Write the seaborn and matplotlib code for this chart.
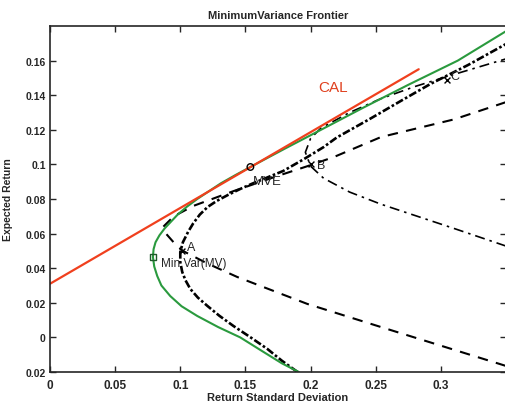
import numpy as np
import pandas as pd
import matplotlib
matplotlib.use("Agg")
import matplotlib.pyplot as plt
import seaborn as sns

# ---------------- data ----------------
green_sd = [0.191, 0.178, 0.163, 0.146, 0.129, 0.113, 0.101, 0.0923, 0.0855, 0.0823,
            0.080, 0.079, 0.0795, 0.081, 0.084, 0.088, 0.093, 0.098, 0.105, 0.113,
            0.122, 0.131, 0.142, 0.1538, 0.18, 0.208, 0.241, 0.275, 0.313, 0.35]
green_ret = [-0.02, -0.015, -0.008, 0.0, 0.006, 0.0124, 0.018, 0.0239, 0.03, 0.0355,
             0.041, 0.0465, 0.051, 0.055, 0.059, 0.063, 0.067, 0.071, 0.0755, 0.08,
             0.0845, 0.089, 0.0937, 0.0985, 0.109, 0.12, 0.133, 0.146, 0.16, 0.177]

heavy_sd = [0.19, 0.178, 0.1669, 0.154, 0.1408, 0.13, 0.1208, 0.1135, 0.1077, 0.104,
            0.1015, 0.100, 0.100, 0.102, 0.106, 0.110, 0.115, 0.121, 0.128, 0.137,
            0.146, 0.155, 0.164, 0.179, 0.195, 0.21, 0.22, 0.246, 0.27, 0.292,
            0.321, 0.35]
heavy_ret = [-0.02, -0.0135, -0.0067, 0.0, 0.0066, 0.0125, 0.0182, 0.023, 0.028, 0.033,
             0.0378, 0.0435, 0.0494, 0.055, 0.061, 0.066, 0.071, 0.0754, 0.0789, 0.0825,
             0.0858, 0.0888, 0.0916, 0.0962, 0.1031, 0.11, 0.1155, 0.1265, 0.137, 0.1465,
             0.1575, 0.1696]

ab_sd = [0.35, 0.31, 0.254, 0.218, 0.1977, 0.1746, 0.141, 0.11, 0.095, 0.087,
         0.089, 0.096, 0.102, 0.12, 0.1438, 0.1977, 0.254, 0.35]
ab_ret = [0.136, 0.126, 0.1158, 0.1043, 0.099, 0.0933, 0.0846, 0.076, 0.07, 0.064,
          0.06, 0.054, 0.05, 0.043, 0.0349, 0.0193, 0.006, -0.0165]

bc_sd = [0.35, 0.31, 0.28, 0.254, 0.23, 0.21, 0.2, 0.196, 0.2, 0.208,
         0.23, 0.254, 0.28, 0.31, 0.35]
bc_ret = [0.0528, 0.063, 0.0705, 0.077, 0.084, 0.092, 0.099, 0.107, 0.115, 0.121,
          0.13, 0.138, 0.145, 0.152, 0.161]

cal_sd = [0.0, 0.283]
cal_ret = [0.031, 0.155]

point_names = ["A", "B", "C"]
point_sd = [0.101, 0.2, 0.305]
point_ret = [0.05, 0.1, 0.149]

mv_sd, mv_ret = 0.079, 0.0465
mve_sd, mve_ret = 0.1538, 0.0985

xticks = [0, 0.05, 0.1, 0.15, 0.2, 0.25, 0.3]
xtick_labels = ["0", "0.05", "0.1", "0.15", "0.2", "0.25", "0.3"]
yticks = [-0.02, 0, 0.02, 0.04, 0.06, 0.08, 0.1, 0.12, 0.14, 0.16]
ytick_labels = ["0.02", "0", "0.02", "0.04", "0.06", "0.08", "0.1", "0.12", "0.14", "0.16"]

# ---------------- style ----------------
sns.set_style("ticks")
plt.rcParams["font.family"] = ["Liberation Sans", "DejaVu Sans"]
plt.rcParams["xtick.direction"] = "in"
plt.rcParams["ytick.direction"] = "in"

fig = plt.figure(figsize=(5.05, 4.02), dpi=100)
ax = fig.add_axes([50 / 505, 29 / 402, 456 / 505, 346 / 402])

def curve(sd, ret, **kw):
    df = pd.DataFrame({"sd": sd, "ret": ret})
    sns.lineplot(data=df, x="sd", y="ret", sort=False, estimator=None, ax=ax, **kw)

curve(bc_sd, bc_ret, color="black", lw=1.2, linestyle=(0, (6, 3, 1.5, 3)))
curve(ab_sd, ab_ret, color="black", lw=1.5, linestyle=(0, (5, 4)))
curve(heavy_sd, heavy_ret, color="black", lw=1.9, linestyle=(0, (3, 0.9, 1, 0.9)))
curve(green_sd, green_ret, color="#2a9a3e", lw=1.5)
curve(cal_sd, cal_ret, color="#f0401e", lw=1.6)

pts = pd.DataFrame({"sd": point_sd, "ret": point_ret})
sns.scatterplot(data=pts, x="sd", y="ret", marker="x", color="black", s=18,
                linewidth=1.0, ax=ax, zorder=5)
sns.scatterplot(x=[mv_sd], y=[mv_ret], marker="s", facecolor="none",
                edgecolor="#1f5a2a", s=16, linewidth=1.0, ax=ax, zorder=6)
sns.scatterplot(x=[mve_sd], y=[mve_ret], marker="o", facecolor="none",
                edgecolor="black", s=22, linewidth=1.0, ax=ax, zorder=6)

ax.text(0.105, 0.052, "A", fontsize=9, va="center", ha="left")
ax.text(0.205, 0.0995, "B", fontsize=9, va="center", ha="left")
ax.text(0.307, 0.151, "C", fontsize=9, va="center", ha="left")
ax.text(0.156, 0.0905, "MVE", fontsize=9.5, va="center", ha="left")
ax.text(0.085, 0.043, "Min Var(MV)", fontsize=8.5, va="center", ha="left")
ax.text(0.206, 0.1447, "CAL", fontsize=11, va="center", ha="left", color="#e0401e")

ax.set_xlim(0, 0.35)
ax.set_ylim(-0.02, 0.18)
ax.set_xticks(xticks)
ax.set_xticklabels(xtick_labels, fontsize=8.5, fontweight="bold")
ax.set_yticks(yticks)
ax.set_yticklabels(ytick_labels, fontsize=7.5, fontweight="bold")
ax.tick_params(axis="both", length=4, width=1.0, top=True, right=True)
ax.tick_params(axis="x", pad=5)
ax.tick_params(axis="y", pad=3)
for s in ax.spines.values():
    s.set_linewidth(1.2)

ax.set_title("MinimumVariance Frontier", fontsize=8, fontweight="bold", pad=6)
ax.set_xlabel("Return Standard Deviation", fontsize=8, fontweight="bold", labelpad=1)
ax.set_ylabel("Expected Return", fontsize=7.5, fontweight="bold")
ax.yaxis.set_label_coords(-0.082, 0.5)

fig.savefig("out.png", dpi=100)
